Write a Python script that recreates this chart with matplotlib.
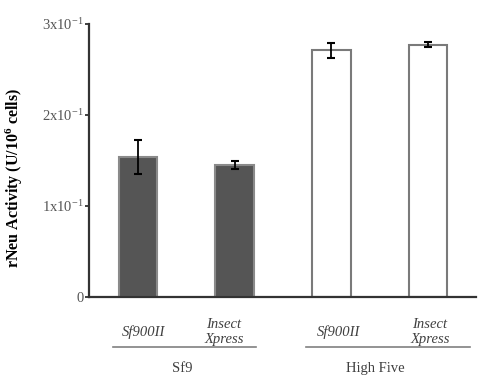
import matplotlib
matplotlib.use('Agg')
import matplotlib.pyplot as plt
import numpy as np

plt.rcParams['font.family'] = 'Liberation Serif'
plt.rcParams['mathtext.fontset'] = 'custom'
plt.rcParams['mathtext.rm'] = 'Liberation Serif'
plt.rcParams['mathtext.it'] = 'Liberation Serif:italic'
plt.rcParams['mathtext.bf'] = 'Liberation Serif:bold'

# data
media = ['Sf900II', 'Insect\nXpress', 'Sf900II', 'Insect\nXpress']
cell_lines = ['Sf9', 'High Five']
activity = [0.154, 0.145, 0.271, 0.277]
errors = [0.019, 0.004, 0.008, 0.003]
yticks = [0, 0.1, 0.2, 0.3]
ytick_labels = ['0', r'1x10$^{-1}$', r'2x10$^{-1}$', r'3x10$^{-1}$']

x = np.arange(len(activity))
face = ['#555555', '#555555', 'white', 'white']
edge = ['#8a8a8a', '#8a8a8a', '#7a7a7a', '#7a7a7a']

fig = plt.figure(figsize=(4.78, 3.78), dpi=100)
ax = fig.add_axes([0.186, 0.214, 0.81, 0.723])

ax.bar(x, activity, width=0.4, color=face, edgecolor=edge, linewidth=1.5, zorder=2)
ax.errorbar(x, activity, yerr=errors, fmt='none', ecolor='black',
            elinewidth=1.3, capsize=3, capthick=1.5, zorder=3)

ax.set_xlim(-0.51, 3.5)
ax.set_ylim(0, 0.3)
ax.set_yticks(yticks)
ax.set_yticklabels(ytick_labels, color='#555555', fontsize=10.5)
ax.tick_params(axis='y', length=3, width=1.3, color='#333333', pad=1)
ax.set_xticks([])
for s in ['top', 'right']:
    ax.spines[s].set_visible(False)
ax.spines['left'].set_color('#333333')
ax.spines['left'].set_linewidth(1.6)
ax.spines['bottom'].set_color('#333333')
ax.spines['bottom'].set_linewidth(1.6)
ax.spines['left'].set_bounds(0, 0.3)

tr = ax.get_xaxis_transform()
# medium labels (italic), slightly shifted as in the original
shift = [0.06, -0.11, 0.07, 0.02]
for i, lab in enumerate(media):
    ax.text(x[i] + shift[i], -0.128, lab, transform=tr, ha='center', va='center',
            fontsize=10.5, style='italic', color='#404040', linespacing=1.15)

# group underline and cell line labels
for g, name in enumerate(cell_lines):
    left = x[2 * g] - 0.26
    right = x[2 * g + 1] + (0.22 if g == 0 else 0.44)
    ax.plot([left, right], [-0.183, -0.183], transform=tr, color='#808080',
            lw=1.2, clip_on=False)
    ax.text((x[2 * g] + x[2 * g + 1]) / 2 - 0.04, -0.26, name, transform=tr,
            ha='center', va='center', fontsize=10.5, color='#404040')

fig.text(0.03, 0.53, r'rNeu Activity (U/10$^{\mathbf{6}}$ cells)', rotation=90,
         ha='center', va='center', fontsize=11.5, color='black', weight='bold')

fig.savefig('out.png', dpi=100)
